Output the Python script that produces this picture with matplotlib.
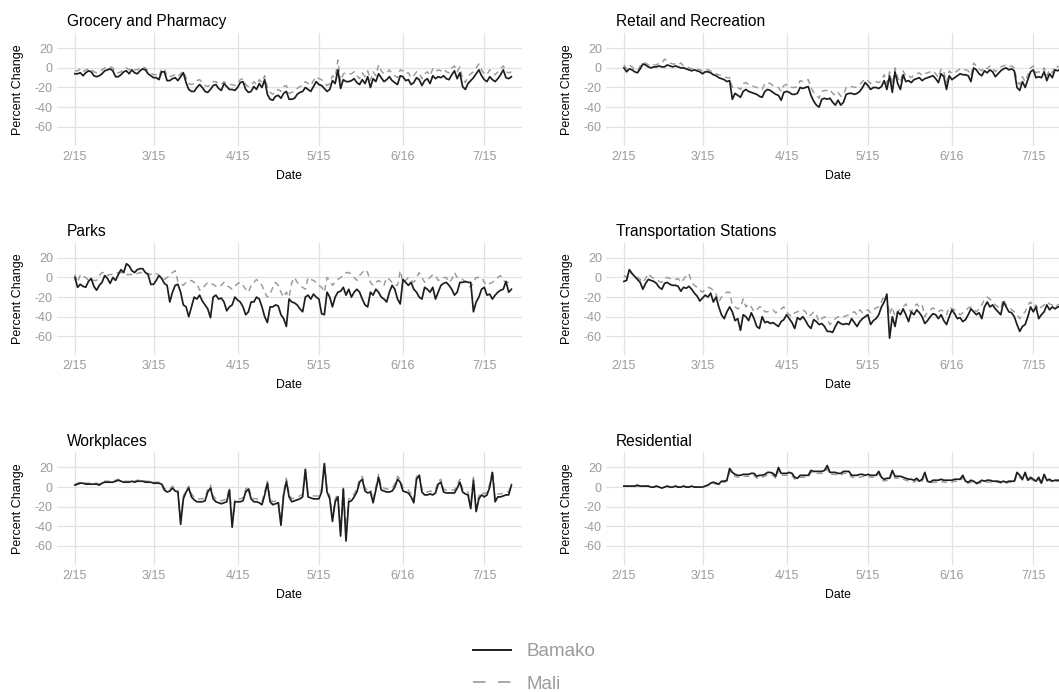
import matplotlib
matplotlib.use("Agg")
import matplotlib.pyplot as plt
import pandas as pd
from matplotlib.lines import Line2D

plt.rcParams['font.family'] = ['Liberation Sans', 'DejaVu Sans']

# ---------------- data (daily, starting 2020-02-15) ----------------
start_date = "2020-02-15"

categories = ["Grocery and Pharmacy", "Retail and Recreation", "Parks",
              "Transportation Stations", "Workplaces", "Residential"]
series_names = ["Bamako", "Mali"]

tick_dates = ["2020-02-15", "2020-03-15", "2020-04-15", "2020-05-15",
              "2020-06-15", "2020-07-15"]
tick_labels = ["2/15", "3/15", "4/15", "5/15", "6/16", "7/15"]
y_ticks = [-60, -40, -20, 0, 20]

grocery_bamako = [
    -6, -6, -5, -8, -5, -3, -4,
    -8, -9, -8, -6, -3, -2, -1,
    -3, -9, -9, -7, -4, -3, -6,
    -2, -5, -6, -3, -1, -2, -6,
    -8, -10, -10, -12, -4, -4, -13,
    -13, -11, -10, -13, -9, -5, -15,
    -22, -24, -24, -20, -17, -20, -24,
    -25, -22, -18, -17, -21, -23, -16,
    -19, -22, -22, -23, -20, -15, -14,
    -22, -25, -24, -19, -22, -16, -20,
    -12, -27, -32, -33, -29, -28, -31,
    -26, -24, -32, -32, -31, -27, -25,
    -24, -20, -22, -24, -19, -14, -17,
    -18, -21, -24, -22, -13, -16, -2,
    -21, -12, -14, -14, -13, -11, -15,
    -17, -12, -16, -9, -20, -11, -14,
    -6, -10, -14, -12, -9, -13, -15,
    -17, -8, -9, -13, -12, -17, -15,
    -10, -12, -18, -13, -11, -16, -8,
    -11, -9, -10, -8, -11, -12, -7,
    -3, -11, -5, -19, -22, -16, -13,
    -10, -6, -2, -8, -12, -14, -9,
    -12, -14, -11, -7, -2, -10, -11,
    -9]
grocery_mali = [
    -3, -3, -1, -4, -2, -1, -1,
    -4, -5, -4, -2, 0, 1, 1,
    0, -5, -5, -4, -1, 0, -2,
    0, -2, -2, 0, 1, 0, -3,
    -5, -7, -7, -9, -1, -1, -9,
    -9, -8, -7, -9, -6, -3, -10,
    -16, -17, -16, -13, -12, -15, -18,
    -19, -17, -14, -14, -16, -17, -14,
    -16, -17, -17, -18, -16, -12, -11,
    -17, -19, -18, -14, -17, -12, -15,
    -8, -20, -25, -27, -23, -22, -24,
    -19, -18, -26, -25, -24, -21, -19,
    -18, -14, -16, -18, -13, -9, -11,
    -12, -15, -18, -16, -8, -10, 8,
    -14, -6, -5, -6, -6, -4, -8,
    -11, -5, -9, -3, -13, -4, -8,
    3, -3, -6, -5, -2, -6, -8,
    -10, -2, -3, -6, -5, -10, -8,
    -4, -5, -11, -6, -4, -8, -1,
    -4, -2, -3, -1, -4, -5, 0,
    2, -4, 1, -11, -15, -9, -6,
    -4, 0, 4, -2, -6, -7, -2,
    -5, -7, -4, -1, 2, -4, -5,
    -4]

retail_bamako = [
    0, -4, -1, -2, -4, -5, -1,
    4, 3, 1, 0, 1, 1, 2,
    1, 1, 3, 2, 1, 2, 1,
    0, 0, -1, -2, -3, -2, -3,
    -4, -6, -4, -4, -5, -7, -8,
    -10, -11, -12, -14, -13, -32, -26,
    -28, -30, -24, -22, -24, -25, -26,
    -27, -29, -30, -24, -22, -23, -25,
    -27, -28, -33, -25, -24, -25, -27,
    -27, -26, -20, -21, -20, -19, -28,
    -34, -38, -40, -32, -31, -32, -31,
    -35, -38, -33, -38, -35, -27, -26,
    -26, -27, -26, -24, -20, -15, -18,
    -22, -20, -20, -21, -19, -13, -22,
    -8, -25, -4, -16, -22, -7, -14,
    -13, -15, -12, -11, -10, -13, -11,
    -10, -9, -8, -11, -15, -6, -9,
    -22, -8, -12, -10, -8, -6, -7,
    -7, -8, -14, 0, -2, -6, -8,
    -3, -5, -2, -4, -9, -6, -3,
    -1, 0, -2, -1, -3, -20, -23,
    -14, -20, -12, -4, -2, -10, -9,
    -10, -4, -13, -6, -10, -2, -3,
    -1]
retail_mali = [
    3, -1, 3, 1, -2, -3, 2,
    5, 5, 3, 2, 3, 3, 5,
    5, 9, 7, 5, 4, 4, 3,
    5, 2, 2, 0, -1, 0, -1,
    -2, -3, -1, -2, -3, -5, -6,
    -7, -8, -9, -10, -10, -20, -19,
    -20, -22, -16, -15, -17, -18, -19,
    -20, -21, -22, -16, -15, -16, -18,
    -19, -20, -24, -18, -17, -18, -20,
    -20, -19, -13, -14, -13, -12, -20,
    -25, -28, -31, -24, -23, -23, -22,
    -26, -28, -25, -29, -27, -20, -19,
    -19, -20, -19, -17, -14, -11, -13,
    -16, -14, -14, -15, -13, -7, -16,
    -4, -17, 0, -10, -15, -3, -9,
    -8, -10, -7, -6, -5, -8, -6,
    -5, -4, -3, -6, -10, -1, -4,
    -15, -3, -6, -5, -3, -1, -2,
    -2, -3, -8, 5, 2, -1, -3,
    1, -1, 2, 0, -4, -1, 1,
    2, 3, 1, 2, 0, -14, -17,
    -9, -14, -7, 0, 2, -5, -4,
    -5, 0, -8, -2, -5, 2, 1,
    2]

parks_bamako = [
    0, -10, -7, -9, -10, -4, -1,
    -9, -13, -8, -5, 2, -1, -6,
    0, -3, 3, 8, 5, 14, 12,
    7, 5, 8, 9, 9, 5, 3,
    -7, -7, -3, 2, -1, -6, -8,
    -25, -15, -8, -7, -15, -28, -30,
    -40, -30, -20, -22, -18, -24, -28,
    -32, -41, -20, -18, -22, -21, -25,
    -34, -30, -28, -20, -23, -25, -30,
    -38, -35, -25, -25, -20, -22, -30,
    -40, -46, -30, -30, -28, -29, -38,
    -42, -50, -22, -25, -26, -28, -32,
    -35, -20, -18, -22, -17, -20, -22,
    -37, -38, -15, -20, -30, -20, -15,
    -14, -10, -18, -12, -20, -15, -12,
    -15, -22, -28, -30, -15, -18, -12,
    -15, -20, -22, -25, -15, -8, -12,
    -22, -27, -2, -5, -8, -5, -12,
    -15, -20, -22, -10, -12, -15, -10,
    -22, -15, -8, -6, -5, -8, -12,
    -18, -15, -5, -5, -4, -5, -5,
    -35, -25, -20, -12, -10, -18, -17,
    -22, -18, -15, -13, -12, -4, -15,
    -12]
parks_mali = [
    3, -5, 3, 1, 0, -3, -2,
    -3, -3, 2, 5, 5, 2, 3,
    3, 4, 5, 5, 4, 3, 3,
    3, 4, 4, 5, 5, 5, 4,
    3, 5, 4, 2, 1, -2, 0,
    2, 5, 7, -4, -6, -8, -5,
    -4, -3, -5, -6, -13, -12, -8,
    -5, -6, -7, -9, -10, -8, -5,
    -8, -10, -12, -9, -6, -5, -8,
    -12, -15, -8, -5, -2, -5, -8,
    -15, -20, -17, -10, -5, -8, -15,
    -20, -15, -20, -5, 0, -5, -8,
    -10, -12, 0, -2, -3, -5, -8,
    -10, -15, 0, -3, -8, -5, -2,
    0, 2, 5, 5, 3, 0, -3,
    2, 5, 8, 5, -5, -8, -5,
    -3, -5, -8, 0, -2, -5, -8,
    -8, 7, -5, -3, 0, -3, -5,
    0, 5, 0, -5, -2, 0, 3,
    2, -3, -2, 0, 0, -5, -2,
    5, 0, -1, -2, -5, -8, -10,
    -5, 0, 0, 0, -5, -8, -6,
    -5, -2, 0, 2, -3, -5, -5,
    -5]

transit_bamako = [
    -4, -3, 8, 4, 1, -2, -5,
    -12, -6, -2, -3, -4, -6, -10,
    -12, -6, -5, -7, -8, -8, -9,
    -14, -10, -11, -9, -12, -16, -19,
    -24, -21, -18, -20, -16, -25, -20,
    -30, -38, -42, -35, -30, -35, -44,
    -42, -54, -38, -40, -44, -36, -42,
    -50, -52, -40, -46, -45, -47, -46,
    -48, -50, -45, -43, -38, -42, -46,
    -52, -41, -43, -40, -44, -49, -52,
    -43, -45, -48, -47, -50, -55, -55,
    -56, -50, -45, -47, -48, -47, -48,
    -42, -46, -50, -45, -42, -40, -38,
    -48, -44, -42, -38, -30, -25, -17,
    -62, -40, -50, -35, -38, -32, -38,
    -45, -35, -38, -33, -36, -40, -47,
    -44, -40, -37, -38, -42, -38, -44,
    -48, -40, -33, -37, -42, -41, -45,
    -43, -38, -32, -35, -38, -36, -42,
    -30, -25, -30, -28, -32, -35, -38,
    -25, -30, -35, -36, -40, -48, -55,
    -50, -48, -40, -30, -35, -30, -42,
    -38, -35, -28, -33, -30, -32, -30,
    -30]
transit_mali = [
    2, 0, 7, 4, 2, 0, -2,
    -5, -1, 4, 1, -1, -2, -4,
    -5, -1, 0, -1, -2, -2, -1,
    -5, -2, 2, 4, -5, -8, -10,
    -13, -15, -12, -10, -11, -13, -17,
    -25, -20, -17, -15, -15, -28, -30,
    -32, -30, -22, -30, -27, -30, -35,
    -33, -30, -30, -35, -35, -34, -33,
    -36, -34, -32, -30, -35, -38, -40,
    -36, -35, -34, -33, -35, -40, -38,
    -35, -38, -45, -42, -40, -43, -48,
    -45, -42, -40, -41, -40, -39, -38,
    -36, -35, -38, -33, -36, -34, -33,
    -36, -33, -31, -30, -25, -18, -20,
    -38, -30, -40, -35, -32, -30, -27,
    -32, -35, -30, -27, -30, -28, -40,
    -35, -33, -31, -33, -35, -33, -35,
    -38, -30, -32, -33, -35, -38, -36,
    -34, -31, -30, -32, -35, -32, -28,
    -22, -20, -22, -25, -28, -30, -32,
    -22, -28, -30, -33, -35, -38, -42,
    -38, -35, -28, -25, -30, -28, -33,
    -30, -28, -25, -27, -28, -30, -28,
    -27]

work_bamako = [
    2, 3, 4, 4, 3, 3, 3,
    3, 3, 2, 4, 5, 5, 5,
    5, 6, 7, 6, 5, 5, 5,
    6, 5, 6, 6, 6, 5, 5,
    5, 4, 4, 4, 3, -3, -5,
    -4, -1, -4, -5, -38, -12, -5,
    -1, -10, -13, -15, -15, -15, -14,
    -5, -1, -12, -15, -16, -17, -16,
    -15, -3, -41, -15, -15, -15, -14,
    -5, -2, -12, -15, -15, -16, -18,
    -8, 4, -15, -18, -17, -16, -39,
    -8, 6, -10, -15, -14, -13, -12,
    -10, 18, -10, -11, -12, -12, -12,
    -5, 24, -5, -12, -35, -15, -10,
    -50, -2, -55, -15, -14, -10, -5,
    5, 8, -4, -6, -5, -16, -3,
    10, -3, -4, -5, -5, -4, 0,
    8, 5, -4, -5, -6, -10, -16,
    8, 12, -5, -8, -8, -7, -8,
    -6, 3, 5, -5, -6, -6, -6,
    -6, -1, 5, -5, -7, -8, -22,
    7, -25, -12, -8, -10, -8, 0,
    15, -15, -10, -10, -9, -8, -8,
    2]
work_mali = [
    3, 4, 5, 5, 4, 4, 4,
    4, 4, 3, 5, 6, 6, 6,
    6, 7, 8, 7, 6, 6, 6,
    7, 6, 7, 7, 7, 6, 6,
    6, 5, 5, 5, 4, -1, -3,
    -2, 1, -2, -3, -33, -9, -3,
    1, -7, -10, -12, -12, -12, -11,
    -2, 2, -9, -12, -13, -14, -13,
    -12, 0, -36, -12, -12, -12, -11,
    -2, 1, -9, -12, -12, -13, -15,
    -5, 6, -12, -15, -14, -13, -35,
    -5, 9, -7, -12, -11, -10, -9,
    -7, 19, -7, -8, -9, -9, -9,
    -2, 25, -3, -9, -31, -12, -7,
    -45, 1, -50, -12, -11, -7, -2,
    8, 11, -1, -3, -2, -13, 0,
    13, 0, -1, -2, -2, -1, 3,
    11, 8, -1, -2, -3, -7, -13,
    11, 14, -2, -5, -5, -4, -5,
    -3, 6, 8, -2, -3, -3, -3,
    -3, 2, 8, -2, -4, -5, -19,
    10, -21, -9, -5, -7, -5, 3,
    17, -12, -7, -7, -6, -5, -5,
    4]

resid_bamako = [
    1, 1, 1, 1, 1, 2, 1,
    1, 1, 1, 0, 0, 1, 0,
    -1, 0, 1, 0, 0, 1, 0,
    0, 1, 0, 0, 1, 0, 0,
    0, 0, 1, 2, 4, 5, 4,
    3, 6, 6, 7, 19, 15, 13,
    12, 12, 13, 13, 13, 14, 14,
    11, 12, 12, 13, 15, 15, 14,
    11, 20, 14, 14, 14, 15, 14,
    10, 9, 12, 12, 12, 12, 17,
    16, 16, 16, 16, 17, 22, 15,
    15, 15, 14, 14, 16, 16, 16,
    12, 12, 12, 13, 13, 12, 13,
    12, 12, 12, 16, 10, 8, 9,
    9, 17, 11, 11, 11, 10, 9,
    8, 8, 7, 9, 6, 8, 15,
    6, 5, 7, 7, 7, 8, 7,
    7, 7, 7, 8, 8, 8, 12,
    6, 5, 7, 6, 4, 5, 7,
    6, 7, 7, 6, 6, 6, 5,
    6, 5, 6, 6, 6, 15, 12,
    8, 15, 7, 10, 8, 6, 10,
    4, 13, 7, 8, 6, 7, 7,
    7]
resid_mali = [
    1, 1, 1, 1, 1, 1, 1,
    1, 1, 1, 0, 0, 1, 0,
    0, 0, 1, 0, 0, 1, 0,
    0, 1, 0, 0, 1, 0, 0,
    0, 0, 1, 2, 3, 4, 3,
    3, 5, 5, 6, 16, 13, 11,
    10, 10, 11, 11, 11, 12, 12,
    9, 10, 10, 11, 13, 13, 12,
    9, 17, 12, 12, 12, 13, 12,
    8, 8, 10, 10, 10, 10, 15,
    14, 14, 14, 14, 15, 19, 13,
    13, 13, 12, 12, 14, 14, 14,
    10, 10, 9, 10, 11, 10, 11,
    10, 10, 10, 14, 8, 6, 7,
    7, 15, 9, 9, 9, 8, 7,
    6, 6, 5, 7, 5, 6, 13,
    5, 4, 5, 5, 5, 6, 5,
    5, 5, 5, 6, 6, 6, 10,
    5, 4, 5, 5, 3, 4, 5,
    5, 5, 5, 5, 5, 5, 4,
    5, 4, 5, 5, 5, 13, 10,
    7, 13, 6, 8, 7, 5, 8,
    3, 11, 6, 7, 5, 6, 6,
    6]

panel_data = [
    (grocery_bamako, grocery_mali),
    (retail_bamako, retail_mali),
    (parks_bamako, parks_mali),
    (transit_bamako, transit_mali),
    (work_bamako, work_mali),
    (resid_bamako, resid_mali),
]

# ---------------- layout (pixels) ----------------
W, H = 1059, 692
col_left = [57.0, 606.0]
ax_w = 464.7
row_top = [33.1, 242.7, 452.3]
ax_h = 112.7

black = "#1e1e1e"
grey_line = "#9a9a9a"
grey_text = "#9b9b9b"
grid_col = "#e2e2e2"

fig = plt.figure(figsize=(W / 100, H / 100), dpi=100)
fig.patch.set_facecolor("white")

t0 = pd.Timestamp(start_date)
x_lo = t0 - pd.Timedelta(days=6.6)
x_hi = t0 + pd.Timedelta(days=164.8)

for i, (cat, (bam, mal)) in enumerate(zip(categories, panel_data)):
    r, c = divmod(i, 2)
    ax = fig.add_axes([col_left[c] / W, 1 - (row_top[r] + ax_h) / H,
                       ax_w / W, ax_h / H])
    d_b = pd.date_range(start_date, periods=len(bam), freq="D")
    d_m = pd.date_range(start_date, periods=len(mal), freq="D")
    ax.plot(d_m, mal, color=grey_line, lw=1.05, dashes=(4, 3), zorder=2)
    ax.plot(d_b, bam, color=black, lw=1.25, zorder=3)

    ax.set_xlim(x_lo, x_hi)
    ax.set_ylim(-79.5, 35.5)
    ax.set_yticks(y_ticks)
    ax.set_yticklabels([str(v) for v in y_ticks])
    ax.set_xticks(pd.to_datetime(tick_dates))
    ax.set_xticklabels(tick_labels)

    ax.grid(True, color=grid_col, lw=0.9)
    ax.set_axisbelow(True)
    for s in ax.spines.values():
        s.set_visible(False)
    ax.tick_params(axis="both", length=0, labelsize=9, labelcolor=grey_text)
    ax.tick_params(axis="x", pad=3.6)
    ax.tick_params(axis="y", pad=2.9)

    ax.set_xlabel("Date", fontsize=8.8, color="black")
    ax.xaxis.set_label_coords(0.5, -29.9 / ax_h)
    ax.xaxis.label.set_verticalalignment("center")
    ax.set_ylabel("Percent Change", fontsize=9, color="black")
    ax.yaxis.set_label_coords(-38.7 / ax_w, 0.5)
    ax.yaxis.label.set_verticalalignment("center")

    ax.text(10 / ax_w, 1 + 6.7 / ax_h, cat, transform=ax.transAxes,
            ha="left", va="baseline", fontsize=11.2, color="black")

handles = [Line2D([], [], color=black, lw=1.4),
           Line2D([], [], color=grey_line, lw=1.2, dashes=(7.5, 7.5))]
fig.legend(handles, series_names, loc="upper left",
           bbox_to_anchor=(473 / W, 1 - 643 / H), frameon=False,
           fontsize=13.5, handlelength=2.0, handletextpad=0.88,
           labelspacing=0.82, borderpad=0, borderaxespad=0,
           labelcolor=grey_text)

fig.savefig("out.png", dpi=100)
